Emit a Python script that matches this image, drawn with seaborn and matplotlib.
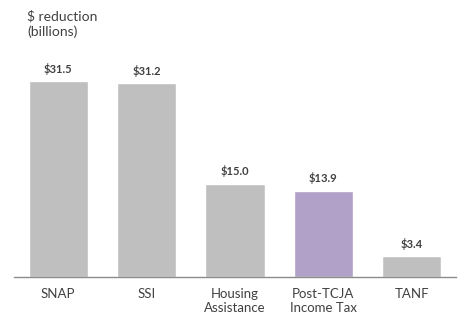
import matplotlib
matplotlib.use("Agg")
import matplotlib.pyplot as plt
import seaborn as sns
import pandas as pd

categories = ["SNAP", "SSI", "Housing\nAssistance", "Post-TCJA\nIncome Tax", "TANF"]
values = [31.5, 31.2, 15.0, 13.9, 3.4]
labels = ["$31.5", "$31.2", "$15.0", "$13.9", "$3.4"]
colors = ["#BFBFBF", "#BFBFBF", "#BFBFBF", "#B1A0C7", "#BFBFBF"]

sns.set_theme(style="white")
plt.rcParams['font.family'] = ['Lato', 'DejaVu Sans']

df = pd.DataFrame({"cat": categories, "val": values})

fig = plt.figure(figsize=(4.7, 3.29), dpi=100)
ax = fig.add_axes([14/470, 1-277/329, 442/470, 217.7/329])
sns.barplot(data=df, x="cat", y="val", hue="cat", palette=colors, legend=False,
            width=0.67, ax=ax, saturation=1)
ax.set_xlim(-0.5, 4.5)
ax.set_ylim(0, 35)
for i, (v, l) in enumerate(zip(values, labels)):
    ax.text(i, v + 1.0, l, ha="center", va="bottom", fontsize=8,
            fontweight="bold", color="#404040")
for s in ["top", "right", "left"]:
    ax.spines[s].set_visible(False)
ax.spines["bottom"].set_color("#8C8C8C")
ax.spines["bottom"].set_linewidth(1.0)
ax.set_yticks([])
ax.set_xlabel("")
ax.set_ylabel("")
ax.tick_params(axis="x", length=0, pad=8, labelsize=9.5, labelcolor="#404040")
fig.text(27/470, 1-10/329, "$ reduction\n(billions)", ha="left", va="top",
         fontsize=10, color="#404040", linespacing=1.3)
fig.savefig("out.png", dpi=100)
